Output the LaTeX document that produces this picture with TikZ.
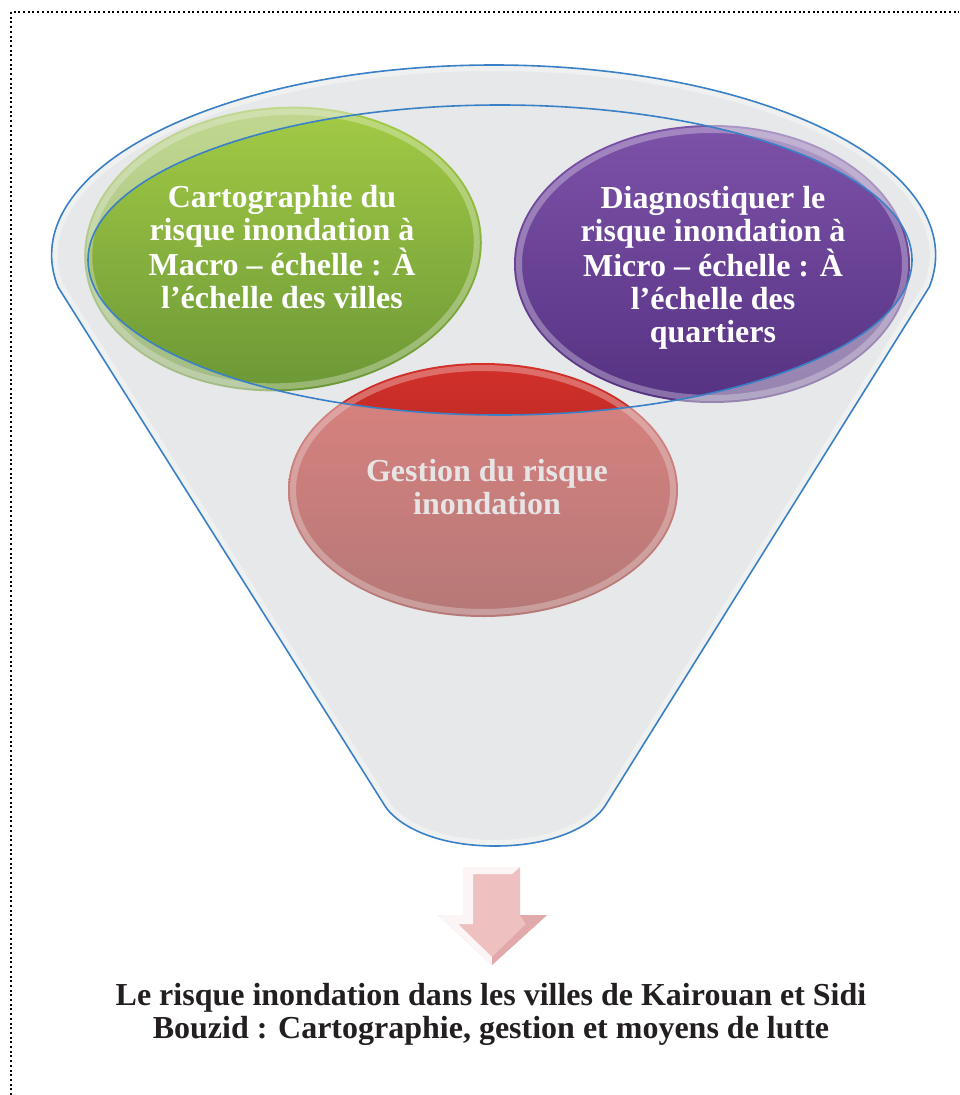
\documentclass[tikz,border=0pt]{standalone}
\usepackage{fontspec}
\setmainfont{Liberation Serif}
\definecolor{funnelgray}{HTML}{E6E8E9}
\definecolor{funnelblue}{HTML}{3A80C6}
\definecolor{greentop}{HTML}{A3CB45}
\definecolor{greenbot}{HTML}{6A9636}
\definecolor{purptop}{HTML}{7C52A8}
\definecolor{purpbot}{HTML}{563282}
\definecolor{redtop}{HTML}{D3302A}
\definecolor{redbot}{HTML}{8E1E1A}
\definecolor{arrowpink}{HTML}{EFC0C0}
\definecolor{arrowdark}{HTML}{E2A9AA}
\definecolor{textdark}{HTML}{231F20}
\definecolor{gestiongray}{HTML}{E6E4E4}
\begin{document}
\begin{tikzpicture}[x=1pt,y=-1pt,
  bluetrace/.style={draw=funnelblue, line width=1.6pt},
  ovaltext/.style={font=\fontsize{32}{33}\selectfont\bfseries, align=center, inner sep=0pt, anchor=north},
  ovalrim/.style={draw=white, draw opacity=0.3, line width=6pt}]
\useasboundingbox (0,0) rectangle (959,1095);
\fill[white] (0,0) rectangle (959,1095);
% dotted frame
\draw[line width=2pt, dash pattern=on 2pt off 2.7pt] (11,1095) -- (11,12) -- (959,12);
\def\silhouette{(58,287) arc[start angle=170.3, end angle=369.7, x radius=442, y radius=190] -- (605,806) .. controls (595,822) and (560,846) .. (495,846) .. controls (430,846) and (395,822) .. (385,806) -- cycle}
% funnel base with inner white glow
\fill[funnelgray] \silhouette;
\begin{scope}
  \clip \silhouette;
  \draw[white, opacity=0.75, line width=12pt] \silhouette;
\end{scope}
% circles
\shade[top color=greentop, bottom color=greenbot, rotate around={4:(283,249)}] (283,249) ellipse [x radius=199, y radius=142];
\draw[ovalrim, rotate around={4:(283,249)}] (283,249) ellipse [x radius=194, y radius=137];
\shade[top color=purptop, bottom color=purpbot] (712,264) ellipse [x radius=198, y radius=139];
\draw[ovalrim] (712,264) ellipse [x radius=193, y radius=134];
\shade[top color=redtop, bottom color=redbot] (483,490) ellipse [x radius=195, y radius=127];
\draw[ovalrim] (483,490) ellipse [x radius=190, y radius=122];
% texts inside the mouth
\node[ovaltext, text=white] (macro) at (282,185) {Cartographie du\\risque inondation à\\Macro – échelle : À\\l’échelle des villes};
\node[ovaltext, text=white] (micro) at (713,186) {Diagnostiquer le\\risque inondation à\\Micro – échelle : À\\l’échelle des\\quartiers};
% translucent funnel overlay
\fill[funnelgray, opacity=0.45, even odd rule] \silhouette (500,260) ellipse [x radius=412, y radius=155];
% outlines
\draw[bluetrace] \silhouette;
\draw[bluetrace] (500,260) ellipse [x radius=412, y radius=155];
\node[ovaltext, text=gestiongray] (gestion) at (487,459) {Gestion du risque\\inondation};
% arrow
\fill[arrowpink] (463,867) -- (520,867) -- (520,915) -- (547,915) -- (492,965) -- (438,915) -- (463,915) -- cycle;
\fill[white, opacity=0.85] (463,867) -- (520,867) -- (512,874) -- (473,874) -- (473,924) -- (458,924) -- (492,957) -- (492,965) -- (438,915) -- (463,915) -- cycle;
\fill[arrowdark] (547,915) -- (492,965) -- (492,957) -- (526,924) -- (520,915) -- cycle;
% title
\node[ovaltext, text=textdark] (titre) at (491,983) {Le risque inondation dans les villes de Kairouan et Sidi\\Bouzid : Cartographie, gestion et moyens de lutte};
\end{tikzpicture}
\end{document}
